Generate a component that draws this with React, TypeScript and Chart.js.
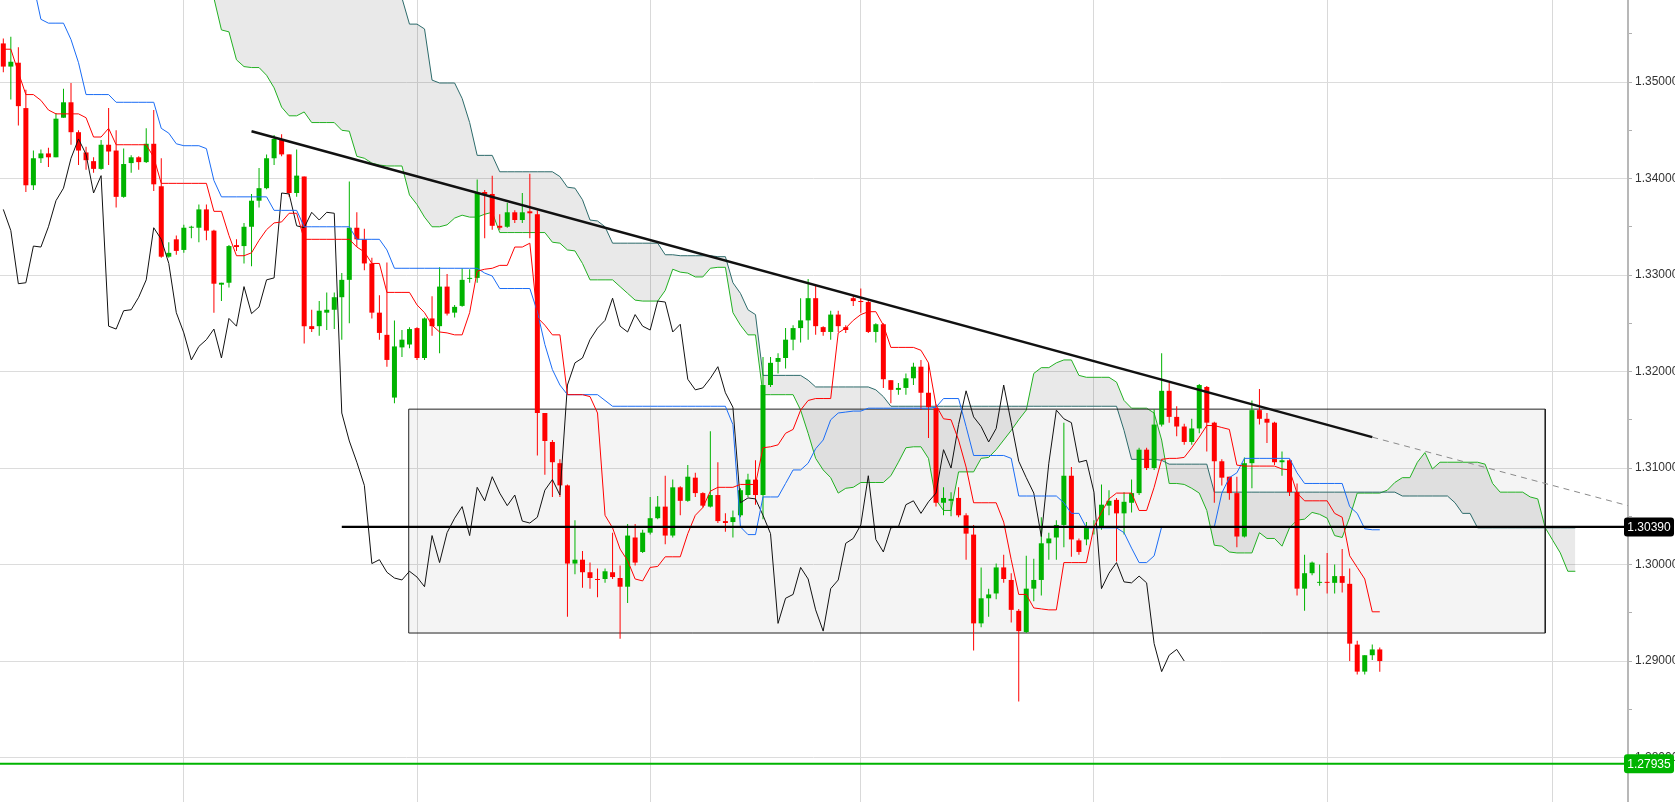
import React, { useEffect, useRef } from 'react';
import { Chart, registerables } from 'chart.js';

Chart.register(...registerables);

// ---------- candle data (daily OHLC) ----------
const openP = [
1.3540,1.3516,1.3520,1.3473,1.3393,1.3421,1.3426,1.3422,1.3463,1.3479,
1.3448,1.3427,1.3418,1.3410,1.3435,1.3429,1.3381,1.3416,1.3422,1.3417,
1.3436,1.3392,1.3319,1.3337,1.3326,1.3349,1.3349,1.3368,1.3346,1.3290,
1.3292,1.3331,1.3330,1.3350,1.3377,1.3390,1.3421,1.3440,1.3425,1.3385,
1.3402,1.3247,1.3247,1.3261,1.3264,1.3277,1.3295,1.3349,1.3337,1.3312,
1.3261,1.3238,1.3173,1.3225,1.3228,1.3245,1.3214,1.3255,1.3247,1.3288,
1.3261,1.3268,1.3296,1.3297,1.3386,1.3384,1.3351,1.3350,1.3365,1.3357,
1.3366,1.3363,1.3157,1.3127,1.3105,1.3082,1.3001,1.3005,1.2992,1.2985,
1.2985,1.2992,1.2986,1.2977,1.3028,1.3013,1.3033,1.3048,1.3060,1.3030,
1.3080,1.3066,1.3090,1.3074,1.3060,1.3072,1.3045,1.3044,1.3051,1.3072,
1.3088,1.3072,1.3186,1.3210,1.3214,1.3233,1.3245,1.3253,1.3276,1.3246,
1.3241,1.3259,1.3246,1.3276,1.3273,1.3272,1.3241,1.3249,1.3191,1.3181,
1.3183,1.3193,1.3205,1.3178,1.3162,1.3064,1.3066,1.3069,1.3051,1.3031,
1.2939,1.2965,1.2970,1.2997,1.2984,1.2952,1.2930,1.2975,1.2984,1.3022,
1.3028,1.3041,1.3092,1.3025,1.3026,1.3038,1.3038,1.3061,1.3067,1.3053,
1.3064,1.3074,1.3119,1.3100,1.3145,1.3180,1.3153,1.3143,1.3127,1.3141,
1.3184,1.3147,1.3107,1.3091,1.3074,1.3029,1.3105,1.3160,1.3151,1.3147,
1.3106,1.3108,1.3075,1.2975,1.2991,1.2981,1.2982,1.2981,1.2988,1.2980,
1.2917,1.2889,1.2906,1.2912];

const highP = [
1.3545,1.3547,1.3536,1.3492,1.3429,1.3430,1.3432,1.3468,1.3493,1.3499,
1.3450,1.3433,1.3422,1.3440,1.3473,1.3450,1.3431,1.3424,1.3423,1.3452,
1.3471,1.3421,1.3334,1.3341,1.3352,1.3351,1.3373,1.3373,1.3347,1.3292,
1.3331,1.3337,1.3354,1.3384,1.3411,1.3425,1.3445,1.3446,1.3425,1.3430,
1.3402,1.3264,1.3273,1.3282,1.3282,1.3302,1.3397,1.3365,1.3348,1.3318,
1.3279,1.3313,1.3253,1.3243,1.3246,1.3246,1.3256,1.3278,1.3308,1.3301,
1.3269,1.3307,1.3306,1.3399,1.3388,1.3403,1.3363,1.3375,1.3367,1.3385,
1.3405,1.3367,1.3157,1.3129,1.3109,1.3083,1.3046,1.3014,1.3002,1.2996,
1.2996,1.3033,1.2999,1.3042,1.3042,1.3036,1.3070,1.3071,1.3092,1.3088,
1.3081,1.3103,1.3095,1.3075,1.3138,1.3106,1.3053,1.3056,1.3079,1.3094,
1.3108,1.3215,1.3215,1.3219,1.3245,1.3248,1.3276,1.3296,1.3289,1.3247,
1.3263,1.3263,1.3248,1.3279,1.3286,1.3274,1.3250,1.3250,1.3191,1.3188,
1.3198,1.3209,1.3212,1.3209,1.3166,1.3080,1.3075,1.3080,1.3053,1.3041,
1.2997,1.2975,1.3001,1.3010,1.2991,1.2954,1.3009,1.3006,1.3049,1.3033,
1.3046,1.3147,1.3101,1.3027,1.3044,1.3046,1.3083,1.3077,1.3069,1.3075,
1.3088,1.3121,1.3121,1.3161,1.3219,1.3188,1.3164,1.3146,1.3151,1.3187,
1.3185,1.3148,1.3109,1.3091,1.3091,1.3111,1.3170,1.3182,1.3157,1.3148,
1.3117,1.3109,1.3084,1.3010,1.3003,1.3000,1.3012,1.3000,1.3016,1.2996,
1.2921,1.2906,1.2917,1.2914];

const lowP = [
1.3510,1.3482,1.3455,1.3386,1.3388,1.3416,1.3412,1.3422,1.3463,1.3435,
1.3414,1.3409,1.3406,1.3409,1.3414,1.3370,1.3380,1.3406,1.3409,1.3416,
1.3387,1.3318,1.3318,1.3321,1.3323,1.3338,1.3334,1.3336,1.3261,1.3273,
1.3287,1.3325,1.3312,1.3309,1.3370,1.3389,1.3414,1.3423,1.3381,1.3381,
1.3229,1.3241,1.3237,1.3243,1.3244,1.3233,1.3250,1.3329,1.3305,1.3255,
1.3233,1.3205,1.3167,1.3215,1.3224,1.3212,1.3212,1.3237,1.3219,1.3258,
1.3256,1.3267,1.3292,1.3292,1.3338,1.3347,1.3347,1.3349,1.3354,1.3354,
1.3338,1.3113,1.3093,1.3070,1.3070,1.2946,1.2990,1.2976,1.2975,1.2966,
1.2981,1.2985,1.2923,1.2960,1.2999,1.3012,1.3031,1.3047,1.3021,1.3028,
1.3051,1.3065,1.3070,1.3059,1.3059,1.3043,1.3034,1.3028,1.3049,1.3070,
1.3062,1.3047,1.3184,1.3198,1.3203,1.3222,1.3230,1.3233,1.3238,1.3237,
1.3233,1.3241,1.3240,1.3268,1.3261,1.3240,1.3230,1.3183,1.3167,1.3176,
1.3176,1.3186,1.3160,1.3131,1.3060,1.3051,1.3050,1.3049,1.3005,1.2911,
1.2935,1.2946,1.2964,1.2981,1.2940,1.2858,1.2929,1.2962,1.2968,1.3005,
1.3005,1.3018,1.3008,1.3010,1.3020,1.3031,1.3036,1.3051,1.3003,1.3031,
1.3054,1.3072,1.3098,1.3098,1.3143,1.3147,1.3133,1.3124,1.3124,1.3136,
1.3117,1.3064,1.3082,1.3067,1.3018,1.3028,1.3079,1.3145,1.3126,1.3103,
1.3092,1.3071,1.2968,1.2952,1.2989,1.2978,1.2970,1.2970,1.2971,1.2900,
1.2886,1.2886,1.2901,1.2889];

const closeP = [
1.3516,1.3521,1.3475,1.3393,1.3421,1.3426,1.3422,1.3462,1.3479,1.3448,
1.3429,1.3419,1.3410,1.3435,1.3428,1.3381,1.3415,1.3422,1.3417,1.3436,
1.3394,1.3319,1.3323,1.3325,1.3349,1.3350,1.3368,1.3346,1.3291,1.3292,
1.3330,1.3329,1.3350,1.3377,1.3390,1.3421,1.3441,1.3425,1.3385,1.3403,
1.3247,1.3244,1.3263,1.3264,1.3277,1.3295,1.3349,1.3337,1.3312,1.3261,
1.3240,1.3212,1.3226,1.3233,1.3244,1.3214,1.3255,1.3247,1.3288,1.3260,
1.3267,1.3295,1.3297,1.3385,1.3384,1.3351,1.3349,1.3365,1.3357,1.3365,
1.3364,1.3157,1.3128,1.3106,1.3082,1.3001,1.3005,1.2992,1.2986,1.2984,
1.2993,1.2987,1.2977,1.3030,1.3002,1.3033,1.3048,1.3060,1.3030,1.3080,
1.3066,1.3091,1.3074,1.3061,1.3072,1.3045,1.3043,1.3049,1.3077,1.3088,
1.3072,1.3186,1.3209,1.3214,1.3233,1.3245,1.3253,1.3276,1.3247,1.3241,
1.3259,1.3247,1.3243,1.3273,1.3272,1.3241,1.3249,1.3192,1.3181,1.3183,
1.3193,1.3205,1.3178,1.3163,1.3064,1.3069,1.3068,1.3051,1.3032,1.2939,
1.2965,1.2969,1.2997,1.2985,1.2953,1.2931,1.2975,1.2984,1.3022,1.3027,
1.3041,1.3092,1.3026,1.3013,1.3038,1.3039,1.3062,1.3066,1.3053,1.3065,
1.3074,1.3119,1.3100,1.3145,1.3180,1.3153,1.3143,1.3127,1.3141,1.3186,
1.3147,1.3107,1.3090,1.3074,1.3029,1.3105,1.3160,1.3151,1.3147,1.3106,
1.3108,1.3075,1.2975,1.2991,1.3002,1.2982,1.2981,1.2988,1.2981,1.2918,
1.2889,1.2906,1.2912,1.2900];

// ---------- Ichimoku lines ----------
const tenkan = [
1.3534,1.3534,1.3510,1.3487,1.3487,1.3481,1.3471,1.3467,1.3467,1.3467,
1.3467,1.3463,1.3443,1.3443,1.3452,1.3435,1.3435,1.3435,1.3435,1.3435,
1.3422,1.3395,1.3395,1.3395,1.3395,1.3395,1.3395,1.3395,1.3366,1.3366,
1.3341,1.3320,1.3320,1.3323,1.3336,1.3347,1.3354,1.3355,1.3364,1.3364,
1.3337,1.3337,1.3337,1.3337,1.3337,1.3337,1.3337,1.3329,1.3324,1.3312,
1.3312,1.3282,1.3282,1.3282,1.3282,1.3269,1.3261,1.3248,1.3241,1.3240,
1.3238,1.3238,1.3261,1.3304,1.3306,1.3307,1.3310,1.3310,1.3329,1.3329,
1.3333,1.3256,1.3248,1.3238,1.3238,1.3176,1.3176,1.3176,1.3174,1.3157,
1.3051,1.3038,1.3016,1.3004,1.2985,1.2983,1.2997,1.2998,1.3008,1.3008,
1.3008,1.3032,1.3051,1.3059,1.3076,1.3080,1.3080,1.3080,1.3083,1.3083,
1.3083,1.3121,1.3122,1.3124,1.3136,1.3140,1.3160,1.3170,1.3172,1.3172,
1.3172,1.3240,1.3245,1.3253,1.3259,1.3262,1.3262,1.3248,1.3225,1.3225,
1.3225,1.3225,1.3222,1.3209,1.3165,1.3151,1.3150,1.3129,1.3101,1.3064,
1.3064,1.3064,1.3064,1.3044,1.3005,1.2969,1.2969,1.2955,1.2954,1.2953,
1.2953,1.3002,1.3002,1.3002,1.3002,1.3039,1.3054,1.3068,1.3074,1.3074,
1.3074,1.3056,1.3056,1.3080,1.3109,1.3110,1.3110,1.3111,1.3121,1.3132,
1.3144,1.3144,1.3142,1.3140,1.3103,1.3102,1.3102,1.3102,1.3102,1.3102,
1.3099,1.3098,1.3074,1.3066,1.3066,1.3066,1.3066,1.3053,1.3049,1.3009,
1.2997,1.2985,1.2951,1.2951];

const kijun = [
1.3647,1.3647,1.3647,1.3626,1.3601,1.3565,1.3561,1.3561,1.3561,1.3544,
1.3520,1.3487,1.3487,1.3487,1.3487,1.3479,1.3479,1.3479,1.3479,1.3479,
1.3479,1.3452,1.3447,1.3436,1.3434,1.3434,1.3434,1.3431,1.3398,1.3381,
1.3381,1.3381,1.3381,1.3381,1.3381,1.3381,1.3367,1.3367,1.3367,1.3367,
1.3350,1.3350,1.3350,1.3350,1.3350,1.3350,1.3350,1.3337,1.3337,1.3337,
1.3337,1.3326,1.3307,1.3307,1.3307,1.3307,1.3307,1.3307,1.3307,1.3307,
1.3307,1.3307,1.3307,1.3307,1.3302,1.3299,1.3286,1.3286,1.3286,1.3286,
1.3286,1.3262,1.3228,1.3202,1.3186,1.3176,1.3176,1.3176,1.3176,1.3176,
1.3170,1.3164,1.3164,1.3164,1.3164,1.3164,1.3164,1.3164,1.3164,1.3164,
1.3164,1.3164,1.3164,1.3164,1.3164,1.3164,1.3164,1.3145,1.3039,1.3031,
1.3031,1.3070,1.3070,1.3070,1.3084,1.3098,1.3098,1.3105,1.3120,1.3129,
1.3150,1.3157,1.3158,1.3159,1.3159,1.3162,1.3162,1.3162,1.3162,1.3162,
1.3162,1.3162,1.3162,1.3162,1.3163,1.3172,1.3172,1.3172,1.3143,1.3113,
1.3113,1.3113,1.3113,1.3113,1.3110,1.3071,1.3071,1.3071,1.3071,1.3071,
1.3071,1.3064,1.3053,1.3053,1.3038,1.3038,1.3038,1.3038,1.3038,1.3033,
1.3017,1.3002,1.3002,1.3009,1.3039,1.3039,1.3039,1.3039,1.3039,1.3039,
1.3039,1.3039,1.3074,1.3090,1.3095,1.3110,1.3110,1.3110,1.3110,1.3110,
1.3110,1.3110,1.3095,1.3084,1.3084,1.3084,1.3084,1.3084,1.3084,1.3060,
1.3053,1.3037,1.3036,1.3036];

// Senkou span A / B (plotted 26 periods ahead, indices 0..209)
const spanA = [
null,null,null,null,null,null,null,null,null,null,
null,null,null,null,null,null,null,null,null,null,
null,null,null,null,null,null,null,1.3606,1.3587,1.3554,
1.3552,1.3523,1.3516,1.3515,1.3515,1.3507,1.3494,1.3474,1.3465,1.3465,
1.3469,1.3458,1.3458,1.3458,1.3458,1.3450,1.3449,1.3423,1.3421,1.3416,
1.3414,1.3413,1.3413,1.3413,1.3383,1.3373,1.3360,1.3350,1.3350,1.3352,
1.3359,1.3362,1.3360,1.3360,1.3363,1.3365,1.3344,1.3344,1.3344,1.3344,
1.3344,1.3344,1.3344,1.3334,1.3333,1.3326,1.3325,1.3312,1.3295,1.3295,
1.3295,1.3295,1.3288,1.3281,1.3274,1.3273,1.3273,1.3273,1.3284,1.3306,
1.3303,1.3302,1.3298,1.3298,1.3307,1.3308,1.3308,1.3261,1.3248,1.3238,
1.3238,1.3176,1.3176,1.3176,1.3176,1.3176,1.3160,1.3136,1.3110,1.3098,
1.3090,1.3074,1.3079,1.3080,1.3085,1.3085,1.3085,1.3085,1.3092,1.3106,
1.3121,1.3122,1.3122,1.3110,1.3067,1.3056,1.3056,1.3096,1.3096,1.3096,
1.3110,1.3111,1.3119,1.3129,1.3139,1.3150,1.3160,1.3198,1.3204,1.3204,
1.3209,1.3212,1.3212,1.3196,1.3194,1.3194,1.3194,1.3194,1.3189,1.3170,
1.3162,1.3162,1.3162,1.3157,1.3129,1.3084,1.3084,1.3083,1.3079,1.3074,
1.3056,1.3020,1.3019,1.3013,1.3012,1.3012,1.3012,1.3033,1.3027,1.3027,
1.3019,1.3038,1.3046,1.3047,1.3054,1.3052,1.3048,1.3030,1.3028,1.3049,
1.3074,1.3074,1.3074,1.3074,1.3077,1.3085,1.3090,1.3090,1.3106,1.3116,
1.3099,1.3106,1.3106,1.3106,1.3106,1.3106,1.3106,1.3104,1.3084,1.3075,
1.3075,1.3075,1.3075,1.3070,1.3068,1.3038,1.3025,1.3012,1.2993,1.2993];

const spanB = [
null,null,null,null,null,null,null,null,null,null,
null,null,null,null,null,null,null,null,null,null,
null,null,null,null,null,null,null,null,1.3700,1.3700,
1.3700,1.3700,1.3700,1.3700,1.3700,1.3700,1.3700,1.3700,1.3700,1.3700,
1.3700,1.3700,1.3700,1.3700,1.3700,1.3700,1.3700,1.3700,1.3700,1.3700,
1.3700,1.3700,1.3700,1.3587,1.3560,1.3560,1.3555,1.3502,1.3499,1.3499,
1.3499,1.3483,1.3458,1.3424,1.3424,1.3424,1.3407,1.3407,1.3407,1.3407,
1.3407,1.3407,1.3407,1.3407,1.3402,1.3391,1.3390,1.3378,1.3357,1.3356,
1.3350,1.3333,1.3333,1.3333,1.3333,1.3333,1.3333,1.3333,1.3321,1.3321,
1.3320,1.3320,1.3320,1.3320,1.3320,1.3319,1.3319,1.3292,1.3281,1.3264,
1.3259,1.3196,1.3196,1.3196,1.3196,1.3196,1.3196,1.3191,1.3184,1.3184,
1.3184,1.3184,1.3184,1.3184,1.3184,1.3184,1.3181,1.3174,1.3164,1.3164,
1.3164,1.3164,1.3164,1.3164,1.3164,1.3164,1.3164,1.3164,1.3164,1.3164,
1.3164,1.3164,1.3164,1.3164,1.3164,1.3164,1.3164,1.3164,1.3164,1.3164,
1.3164,1.3164,1.3164,1.3164,1.3164,1.3164,1.3164,1.3164,1.3164,1.3139,
1.3109,1.3109,1.3109,1.3109,1.3108,1.3104,1.3104,1.3104,1.3104,1.3104,
1.3104,1.3075,1.3075,1.3075,1.3075,1.3075,1.3075,1.3075,1.3075,1.3075,
1.3075,1.3075,1.3075,1.3075,1.3075,1.3075,1.3075,1.3075,1.3075,1.3075,
1.3075,1.3075,1.3075,1.3075,1.3075,1.3075,1.3071,1.3071,1.3071,1.3071,
1.3071,1.3071,1.3071,1.3064,1.3053,1.3053,1.3038,1.3038,1.3038,1.3038,
1.3038,1.3038,1.3038,1.3038,1.3038,1.3038,1.3038,1.3038,1.3038,1.3038];

const chikouShift = 26;

// ---------- annotations ----------
const xGridIdx = [24, 55, 86, 114, 145, 176, 206];
const yTickValues = [1.280, 1.285, 1.290, 1.295, 1.300, 1.305, 1.310, 1.315, 1.320, 1.325, 1.330, 1.335, 1.340, 1.345, 1.350, 1.355];
const supportLevel = 1.3039;
const supportStartIdx = 45;
const targetLevel = 1.27935;
const trendStart = [33, 1.3449];
const trendEnd = [182, 1.3132];
const trendExtEnd = [216, 1.3061];
const boxX = [53.9, 205];
const boxY = [1.2929, 1.3161];
const priceTags = [
  { value: 1.3039, text: '1.30390', bg: '#000000' },
  { value: 1.27935, text: '1.27935', bg: '#00b400' },
];
const X_MIN = -0.44;
const X_MAX = 216;
const Y_MIN = 1.27539;
const Y_MAX = 1.3585;

const GREEN = '#00b300';
const RED = '#ff0000';
const FONT = '"Liberation Sans", Arial, sans-serif';

const isMajor = (v: number) => Math.round(v * 1000) % 10 === 0;

const tagPlugin = {
  id: 'priceTags',
  afterDraw(chart: any) {
    const { ctx, chartArea } = chart;
    const y = chart.scales.y;
    ctx.save();
    priceTags.forEach((t) => {
      const py = y.getPixelForValue(t.value);
      const x0 = chartArea.right - 4;
      const x1 = chart.width - 1;
      const h = 19;
      ctx.fillStyle = t.bg;
      ctx.beginPath();
      if (ctx.roundRect) ctx.roundRect(x0, py - h / 2, x1 - x0, h, 3);
      else ctx.rect(x0, py - h / 2, x1 - x0, h);
      ctx.fill();
      ctx.fillStyle = '#ffffff';
      ctx.font = `12px ${FONT}`;
      ctx.textAlign = 'center';
      ctx.textBaseline = 'middle';
      ctx.fillText(t.text, (x0 + x1) / 2, py + 0.5);
    });
    ctx.restore();
  },
};

const pts = (arr: (number | null)[]) => arr.map((v, i) => ({ x: i, y: v }));

export default function App() {
  const ref = useRef<HTMLCanvasElement | null>(null);

  useEffect(() => {
    document.body.style.margin = '0';
    document.body.style.background = '#ffffff';
    if (!ref.current) return;

    const colors = closeP.map((c, i) => (c >= openP[i] ? GREEN : RED));
    const wicks = lowP.map((l, i) => ({ x: i, y: [l, highP[i]] }));
    const bodies = openP.map((o, i) => ({ x: i, y: [o, closeP[i]] }));
    const chikou = closeP.slice(chikouShift).map((c, j) => ({ x: j, y: c }));

    const line = (extra: any) => ({
      type: 'line',
      pointRadius: 0,
      pointHoverRadius: 0,
      borderWidth: 1,
      tension: 0,
      fill: false,
      ...extra,
    });

    const chart = new Chart(ref.current, {
      type: 'bar',
      data: {
        datasets: [
          // 0 range box fill
          line({
            data: [{ x: boxX[0], y: boxY[1] }, { x: boxX[1], y: boxY[1] }],
            borderWidth: 0,
            borderColor: 'rgba(0,0,0,0)',
            backgroundColor: 'rgba(0,0,0,0.045)',
            fill: { value: boxY[0] },
            order: 100,
          }),
          // 1 range box border
          line({
            data: [
              { x: boxX[0], y: boxY[0] },
              { x: boxX[0], y: boxY[1] },
              { x: boxX[1], y: boxY[1] },
              { x: boxX[1], y: boxY[0] },
              { x: boxX[0], y: boxY[0] },
            ],
            borderColor: '#222222',
            borderWidth: 1,
            order: 80,
          }),
          // 2 span A (fills to span B)
          line({
            data: pts(spanA),
            borderColor: '#22b022',
            backgroundColor: 'rgba(0,0,0,0.085)',
            fill: '+1',
            order: 90,
          }),
          // 3 span B
          line({
            data: pts(spanB),
            borderColor: '#2c6a6a',
            order: 89,
          }),
          // 4 wicks
          {
            type: 'bar',
            data: wicks,
            backgroundColor: colors,
            borderWidth: 0,
            grouped: false,
            maxBarThickness: 1,
            order: 60,
          },
          // 5 bodies
          {
            type: 'bar',
            data: bodies,
            backgroundColor: colors,
            borderWidth: 0,
            grouped: false,
            maxBarThickness: 5,
            minBarLength: 1,
            order: 59,
          },
          // 6 chikou
          line({ data: chikou, borderColor: '#111111', order: 40 }),
          // 7 kijun
          line({ data: pts(kijun), borderColor: '#1a6cf5', order: 39 }),
          // 8 tenkan
          line({ data: pts(tenkan), borderColor: '#ff0000', order: 38 }),
          // 9 support line
          line({
            data: [{ x: supportStartIdx, y: supportLevel }, { x: X_MAX, y: supportLevel }],
            borderColor: '#000000',
            borderWidth: 2.2,
            order: 20,
          }),
          // 10 target line
          line({
            data: [{ x: X_MIN, y: targetLevel }, { x: X_MAX, y: targetLevel }],
            borderColor: '#00b400',
            borderWidth: 2,
            order: 21,
          }),
          // 11 trend line
          line({
            data: [{ x: trendStart[0], y: trendStart[1] }, { x: trendEnd[0], y: trendEnd[1] }],
            borderColor: '#111111',
            borderWidth: 2.5,
            order: 10,
          }),
          // 12 trend extension
          line({
            data: [{ x: trendEnd[0], y: trendEnd[1] }, { x: trendExtEnd[0], y: trendExtEnd[1] }],
            borderColor: '#8a8a8a',
            borderWidth: 1,
            borderDash: [6, 5],
            order: 11,
          }),
        ] as any,
      },
      options: {
        responsive: false,
        animation: false,
        events: [],
        layout: { padding: 0 },
        plugins: {
          legend: { display: false },
          tooltip: { enabled: false },
        },
        scales: {
          x: {
            type: 'linear',
            min: X_MIN,
            max: X_MAX,
            offset: false,
            grid: { color: '#d9d9d9', drawTicks: false, offset: false, lineWidth: 1 },
            border: { display: false },
            ticks: { display: false },
            afterBuildTicks: (s: any) => {
              s.ticks = xGridIdx.map((v) => ({ value: v }));
            },
            afterFit: (s: any) => {
              s.height = 0;
              s.paddingLeft = 0;
              s.paddingRight = 0;
            },
          },
          y: {
            type: 'linear',
            position: 'right',
            min: Y_MIN,
            max: Y_MAX,
            grid: {
              color: (ctx: any) => (ctx.tick && isMajor(ctx.tick.value) ? '#dcdcdc' : 'rgba(0,0,0,0)'),
              tickColor: '#b0b0b0',
              tickLength: 4,
              lineWidth: 1,
            },
            border: { color: '#b8b8b8', width: 2 },
            ticks: {
              padding: 3,
              color: '#333333',
              autoSkip: false,
              font: { family: FONT, size: 12 },
              callback: (v: any) => (isMajor(Number(v)) ? Number(v).toFixed(5) : ''),
            },
            afterBuildTicks: (s: any) => {
              s.ticks = yTickValues.map((v) => ({ value: v }));
            },
            afterFit: (s: any) => {
              s.width = 47;
              s.paddingTop = 0;
              s.paddingBottom = 0;
            },
          },
        } as any,
      },
      plugins: [tagPlugin],
    } as any);

    return () => chart.destroy();
  }, []);

  return (
    <div style={{ width: 1675, height: 802, background: '#fff' }}>
      <canvas ref={ref} width={1675} height={802} style={{ display: 'block' }} />
    </div>
  );
}
